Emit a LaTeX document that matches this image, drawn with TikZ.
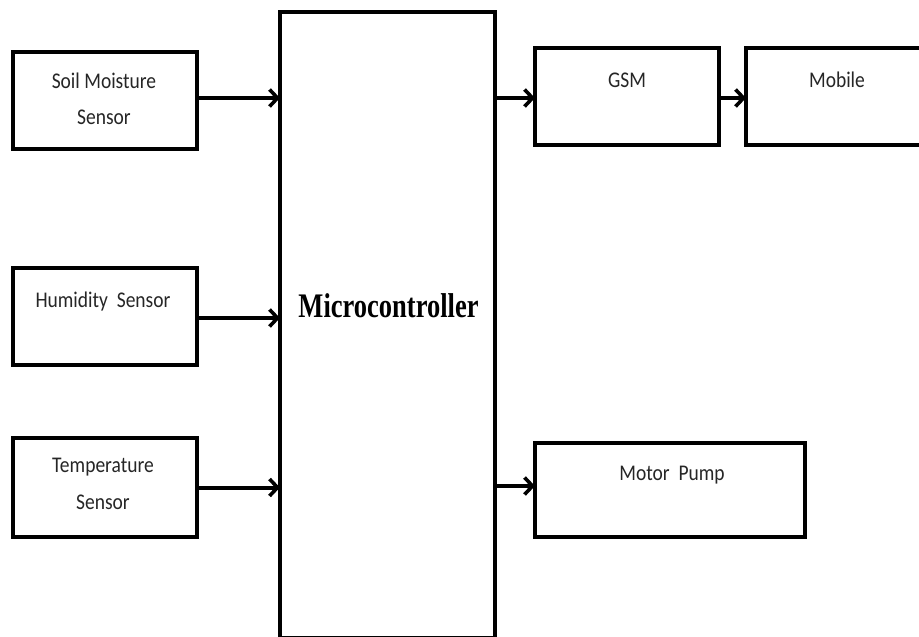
\documentclass[tikz,border=0pt]{standalone}
\usepackage{fontspec}
\usepackage{graphicx}
\usetikzlibrary{arrows.meta}
\newfontfamily\boxfont{Carlito}
\newfontfamily\mcfont{Liberation Serif}
\newcommand\btxt[1]{\scalebox{1}[1.15]{\boxfont\fontsize{19.5}{22}\selectfont #1}}
\tikzset{
  blk/.style={draw=black, line width=3.6pt, fill=none, inner sep=0pt, outer sep=0pt},
  lbl/.style={inner sep=0pt, text=black!85},
  conn/.style={line width=4pt, -{Straight Barb[length=8pt,width=17pt,line width=3.6pt]}}
}
\begin{document}
\begin{tikzpicture}[x=1pt,y=-1pt]
\useasboundingbox (0,0) rectangle (919,637);
\clip (0,0) rectangle (919,637);
\fill[white] (0,0) rectangle (919,637);
% blocks
\node[blk, minimum width=184pt, minimum height=97pt] (soil) at (105,100.5) {};
\node[blk, minimum width=184pt, minimum height=97pt] (hum) at (105,316.5) {};
\node[blk, minimum width=184pt, minimum height=99pt] (temp) at (105,487.5) {};
\node[blk, minimum width=215pt, minimum height=625.5pt] (mc) at (387.5,324.75) {};
\node[blk, minimum width=184pt, minimum height=97pt] (gsm) at (627,96.5) {};
\node[blk, minimum width=200pt, minimum height=97pt] (mob) at (846,96.5) {};
\node[blk, minimum width=270pt, minimum height=94pt] (pump) at (670,490) {};
% labels
\node[lbl] (tsoil1) at (104,81) {\btxt{Soil Moisture}};
\node[lbl] (tsoil2) at (104,117) {\btxt{Sensor}};
\node[lbl] (thum) at (103,302) {\btxt{Humidity\ \ Sensor}};
\node[lbl] (ttemp1) at (103,467) {\btxt{Temperature}};
\node[lbl] (ttemp2) at (103,502) {\btxt{Sensor}};
\node[lbl] (tgsm) at (627,80) {\btxt{GSM}};
\node[lbl] (tmob) at (837,80) {\btxt{Mobile}};
\node[lbl] (tpump) at (672,475) {\btxt{Motor\ \ Pump}};
\node[inner sep=0pt] (tmc) at (388.5,306) {\scalebox{1}[1.3]{\mcfont\bfseries\fontsize{26.5}{30}\selectfont Microcontroller}};
% connectors
\draw[conn] ([yshift=2.5pt]soil.east) -- ([yshift=2.5pt]soil.east -| mc.west);
\draw[conn] ([yshift=-1.5pt]hum.east) -- ([yshift=-1.5pt]hum.east -| mc.west);
\draw[conn] (temp.east) -- (temp.east -| mc.west);
\draw[conn] ([yshift=-1.5pt]mc.east |- gsm.west) -- ([yshift=-1.5pt]gsm.west);
\draw[conn] ([yshift=-1.5pt]gsm.east) -- ([yshift=-1.5pt]mob.west);
\draw[conn] ([yshift=4pt]mc.east |- pump.west) -- ([yshift=4pt]pump.west);
\end{tikzpicture}
\end{document}
